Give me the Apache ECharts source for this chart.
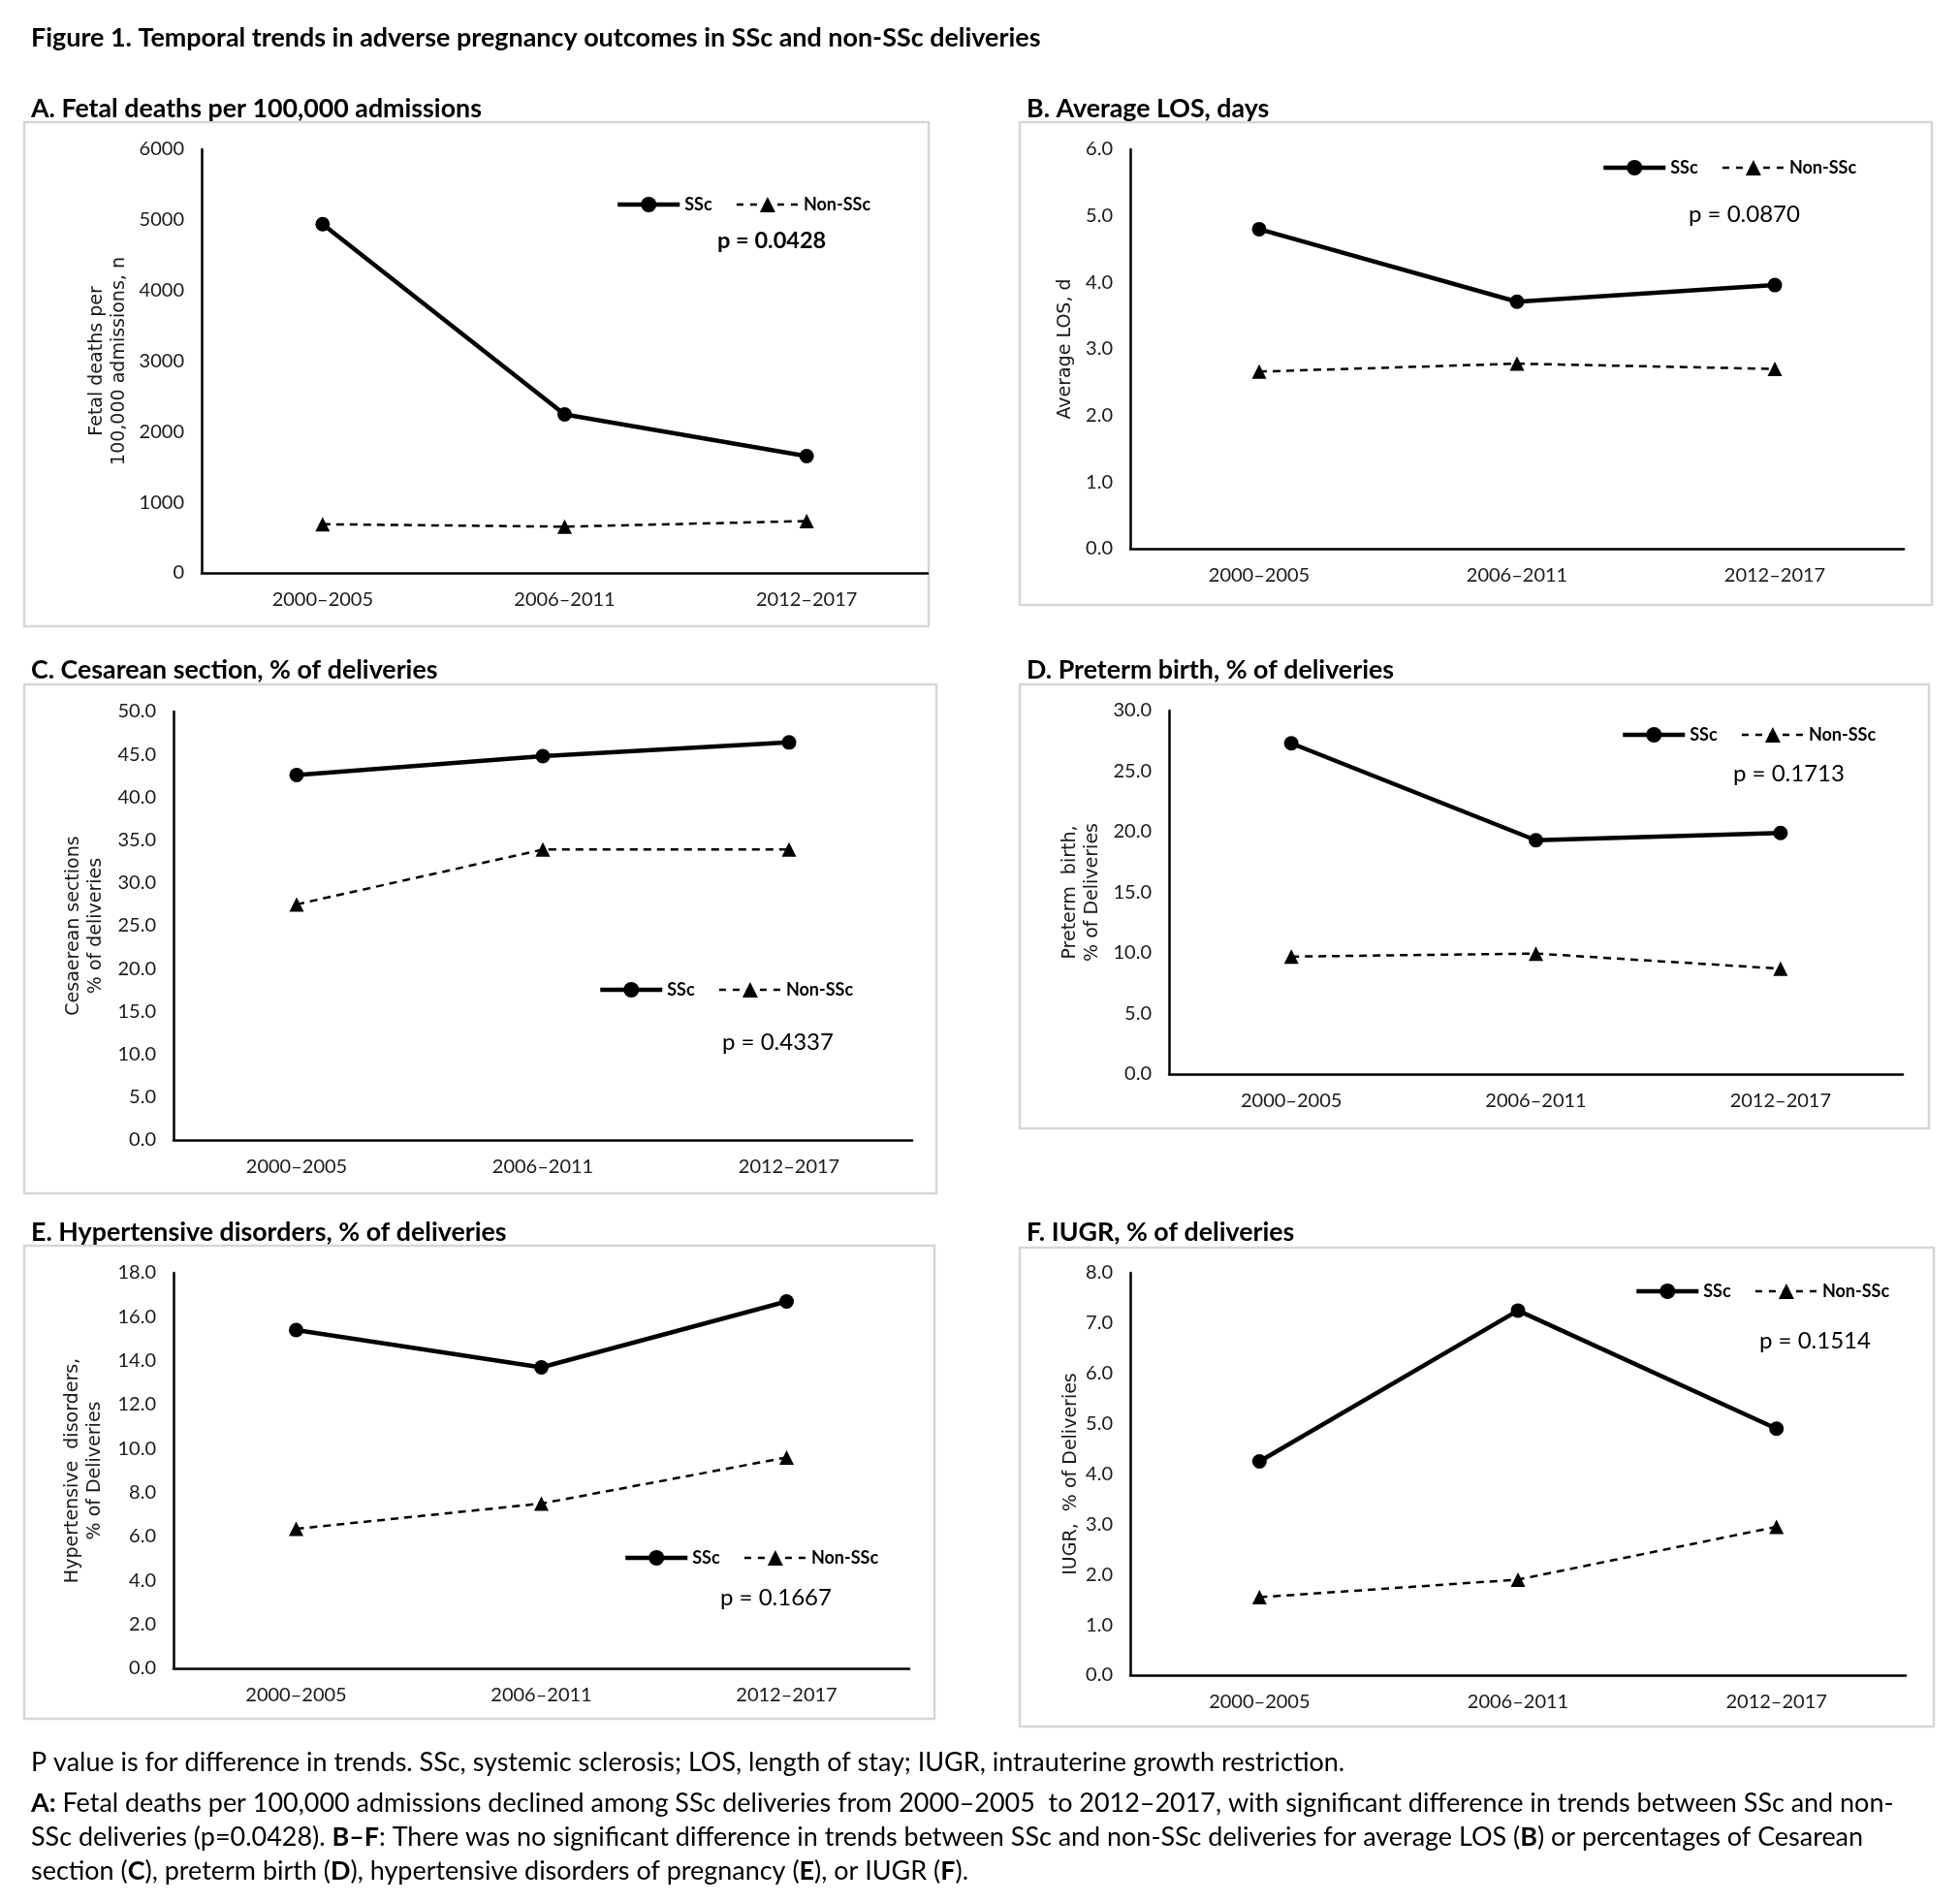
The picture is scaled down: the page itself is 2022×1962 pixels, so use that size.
<!DOCTYPE html>
<html>
<head>
<meta charset="utf-8">
<script src="https://cdn.jsdelivr.net/npm/echarts@6/dist/echarts.min.js"></script>
<style>
html,body{margin:0;padding:0;background:#fff;}
#main{width:2022px;height:1962px;}
</style>
</head>
<body>
<div id="main"></div>
<script>
// ---------- data ----------
const periods = ['2000–2005', '2006–2011', '2012–2017'];
const seriesNames = ['SSc', 'Non-SSc'];

const fetalSSc = [4940, 2245, 1655];
const fetalNon = [690, 655, 735];
const losSSc = [4.80, 3.71, 3.96];
const losNon = [2.66, 2.78, 2.70];
const cesSSc = [42.6, 44.8, 46.4];
const cesNon = [27.5, 33.9, 33.9];
const pretermSSc = [27.3, 19.3, 19.9];
const pretermNon = [9.7, 9.95, 8.7];
const hyperSSc = [15.4, 13.7, 16.7];
const hyperNon = [6.35, 7.5, 9.6];
const iugrSSc = [4.25, 7.25, 4.9];
const iugrNon = [1.55, 1.9, 2.95];

const pValues = ['p = 0.0428', 'p = 0.0870', 'p = 0.4337', 'p = 0.1713', 'p = 0.1667', 'p = 0.1514'];
const panelTitles = [
  'A. Fetal deaths per 100,000 admissions',
  'B. Average LOS, days',
  'C. Cesarean section, % of deliveries',
  'D. Preterm birth, % of deliveries',
  'E. Hypertensive disorders, % of deliveries',
  'F. IUGR, % of deliveries'
];
const yAxisNames = [
  'Fetal deaths per\n100,000 admissions, n',
  'Average LOS, d',
  'Cesaerean sections\n% of deliveries',
  'Preterm  birth,\n% of Deliveries',
  'Hypertensive  disorders,\n% of Deliveries',
  'IUGR,  % of Deliveries'
];
const yMax = [6000, 6, 50, 30, 18, 8];
const yStep = [1000, 1, 5, 5, 2, 1];
const yDecimals = [0, 1, 1, 1, 1, 1];

const mainTitle = 'Figure 1. Temporal trends in adverse pregnancy outcomes in SSc and non-SSc deliveries';
const captionLines = [
  'P value is for difference in trends. SSc, systemic sclerosis; LOS, length of stay; IUGR, intrauterine growth restriction.',
  '{b|A:} Fetal deaths per 100,000 admissions declined among SSc deliveries from 2000–2005  to 2012–2017, with significant difference in trends between SSc and non-',
  'SSc deliveries (p=0.0428). {b|B–F}: There was no significant difference in trends between SSc and non-SSc deliveries for average LOS ({b|B}) or percentages of Cesarean',
  'section ({b|C}), preterm birth ({b|D}), hypertensive disorders of pregnancy ({b|E}), or IUGR ({b|F}).'
];

const panelData = [
  [fetalSSc, fetalNon], [losSSc, losNon], [cesSSc, cesNon],
  [pretermSSc, pretermNon], [hyperSSc, hyperNon], [iugrSSc, iugrNon]
];

// ---------- layout (positions / sizes) ----------
const layout = [
  {box:[25,126,958,646],   title:[32,112],   grid:[208,154,749,437],  nameGap:73, legend:[635,212],  p:[740,248],  pBold:true},
  {box:[1052,126,1993,624],title:[1059,112], grid:[1166,154,798,412], nameGap:55, legend:[1652,174], p:[1742,221]},
  {box:[25,706,966,1231],  title:[32,691],   grid:[179,734,762,442],  nameGap:68, legend:[617,1022], p:[745,1075]},
  {box:[1052,706,1990,1164],title:[1059,691],grid:[1206,733,757,375], nameGap:67, legend:[1672,759], p:[1788,798]},
  {box:[25,1285,964,1773], title:[32,1271],  grid:[179,1313,759,408], nameGap:69, legend:[643,1608], p:[743,1648]},
  {box:[1052,1287,1995,1781],title:[1059,1271],grid:[1166,1313,800,415],nameGap:43, legend:[1686,1333], p:[1815,1383]}
];

const FONT = 'Lato';
const ctx = document.createElement('canvas').getContext('2d');
function fitSize(text, weight, family, target) {
  ctx.font = weight + ' 100px ' + family;
  return 100 * target / ctx.measureText(text.replace(/\{b\|([^}]*)\}/g, '$1')).width;
}

const mainSize = fitSize(mainTitle, 'bold', FONT, 1042);
const panelSize = (fitSize(panelTitles[0], 'bold', FONT, 464) + fitSize(panelTitles[2], 'bold', FONT, 418) + fitSize(panelTitles[4], 'bold', FONT, 494)) / 3;
const capSize = fitSize(captionLines[1], 'normal', FONT, 1921);
const pSize = fitSize(pValues[2], 'normal', FONT, 115);

const grids = [], xAxes = [], yAxes = [], series = [], legends = [], graphics = [];

layout.forEach((L, i) => {
  grids.push({left: L.grid[0], top: L.grid[1], width: L.grid[2], height: L.grid[3], containLabel: false});
  xAxes.push({
    gridIndex: i, type: 'category', data: periods, boundaryGap: true,
    axisLine: {show: true, lineStyle: {color: '#000', width: 2.5}},
    axisTick: {show: false}, splitLine: {show: false},
    axisLabel: {fontFamily: FONT, fontSize: 20, color: '#1a1a1a', margin: 18}
  });
  yAxes.push({
    gridIndex: i, type: 'value', min: 0, max: yMax[i], interval: yStep[i],
    axisLine: {show: true, lineStyle: {color: '#000', width: 2.5}},
    axisTick: {show: false}, splitLine: {show: false},
    axisLabel: {fontFamily: FONT, fontSize: 20, color: '#1a1a1a', margin: 18,
      formatter: v => v.toFixed(yDecimals[i])},
    name: yAxisNames[i], nameLocation: 'middle', nameGap: L.nameGap, nameRotate: 90,
    nameTextStyle: {fontFamily: 'DejaVu Sans', fontSize: 19, lineHeight: 23, color: '#1a1a1a'}
  });
  series.push({
    type: 'line', name: seriesNames[0], xAxisIndex: i, yAxisIndex: i, data: panelData[i][0],
    symbol: 'circle', symbolSize: 15, z: 3,
    lineStyle: {color: '#000', width: 4.5}, itemStyle: {color: '#000'},
    emphasis: {disabled: true}
  });
  series.push({
    type: 'line', name: seriesNames[1], xAxisIndex: i, yAxisIndex: i, data: panelData[i][1],
    symbol: 'triangle', symbolSize: 15, z: 2,
    lineStyle: {color: '#000', width: 2.5, type: [8, 6]}, itemStyle: {color: '#000'},
    emphasis: {disabled: true}
  });
  legends.push({
    left: L.legend[0], top: L.legend[1] - 10, orient: 'horizontal',
    itemWidth: 64, itemHeight: 20, itemGap: 24, selectedMode: false, padding: 0,
    data: [
      {name: seriesNames[0], lineStyle: {width: 4.5, color: '#000'}},
      {name: seriesNames[1], lineStyle: {width: 2.5, color: '#000', type: [7, 7]}}
    ],
    textStyle: {fontFamily: FONT, fontWeight: 'bold', fontSize: 18, color: '#000'}
  });
  graphics.push({
    type: 'rect', silent: true,
    shape: {x: L.box[0], y: L.box[1], width: L.box[2] - L.box[0], height: L.box[3] - L.box[1]},
    style: {fill: 'none', stroke: '#d6d6d6', lineWidth: 2.5}
  });
  graphics.push({
    type: 'text', silent: true, x: L.title[0], y: L.title[1],
    style: {text: panelTitles[i], fontFamily: FONT, fontWeight: 'bold', fontSize: panelSize,
      fill: '#000', align: 'left', verticalAlign: 'middle'}
  });
  graphics.push({
    type: 'text', silent: true, x: L.p[0], y: L.p[1],
    style: {text: pValues[i], fontFamily: FONT, fontWeight: L.pBold ? 'bold' : 'normal',
      fontSize: L.pBold ? pSize * 0.98 : pSize, fill: '#000', align: 'left', verticalAlign: 'middle'}
  });
});

graphics.push({
  type: 'text', silent: true, x: 32, y: 39,
  style: {text: mainTitle, fontFamily: FONT, fontWeight: 'bold', fontSize: mainSize,
    fill: '#000', align: 'left', verticalAlign: 'middle'}
});
const capY = [1818, 1860, 1895, 1930];
captionLines.forEach((t, k) => {
  graphics.push({
    type: 'text', silent: true, x: 32, y: capY[k],
    style: {text: t, fontFamily: FONT, fontSize: capSize, fill: '#000',
      align: 'left', verticalAlign: 'middle',
      rich: {b: {fontFamily: FONT, fontSize: capSize, fontWeight: 'bold', fill: '#000'}}}
  });
});

const chart = echarts.init(document.getElementById('main'), null, {renderer: 'canvas'});
chart.setOption({
  backgroundColor: '#fff',
  animation: false,
  grid: grids, xAxis: xAxes, yAxis: yAxes, series: series, legend: legends,
  graphic: graphics
});
</script>
</body>
</html>
